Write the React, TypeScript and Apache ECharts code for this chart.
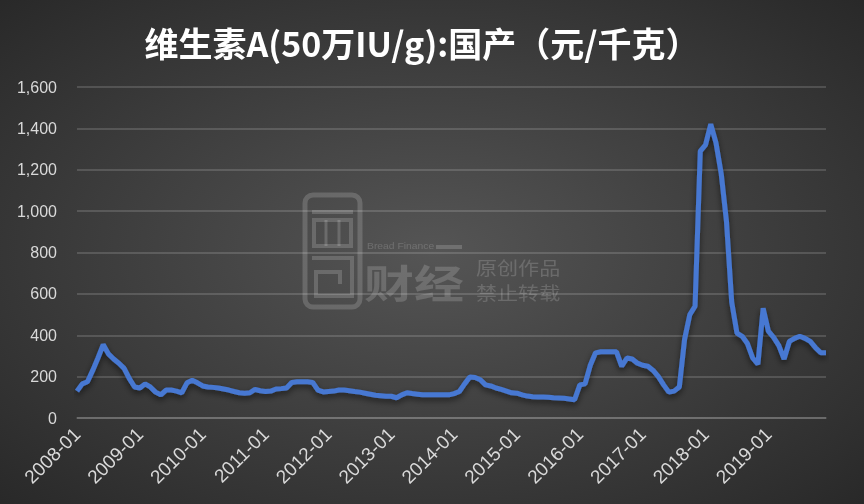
import React, { useEffect, useRef } from "react";
import * as echarts from "echarts";

const TITLE = "维生素A(50万IU/g):国产（元/千克）";

const START_YEAR = 2008;
const YEARS = 12;

const months: string[] = [];
for (let y = 0; y < YEARS; y++) {
  for (let m = 1; m <= 12; m++) {
    months.push(`${START_YEAR + y}-${m < 10 ? "0" + m : m}`);
  }
}

const prices2008 = [130, 165, 175, 230, 290, 355, 310, 285, 265, 240, 190, 150];
const prices2009 = [145, 165, 150, 125, 112, 135, 135, 130, 122, 170, 182, 170];
const prices2010 = [155, 150, 148, 145, 140, 135, 128, 122, 120, 122, 138, 132];
const prices2011 = [128, 130, 140, 142, 145, 172, 175, 175, 175, 172, 135, 126];
const prices2012 = [128, 130, 135, 135, 132, 128, 125, 120, 115, 110, 108, 105];
const prices2013 = [105, 98, 112, 122, 118, 115, 112, 112, 112, 112, 112, 112];
const prices2014 = [118, 128, 165, 198, 196, 185, 160, 155, 145, 138, 130, 122];
const prices2015 = [120, 112, 106, 103, 102, 101, 100, 98, 97, 95, 92, 88];
const prices2016 = [160, 165, 255, 315, 320, 320, 320, 320, 250, 290, 285, 265];
const prices2017 = [255, 250, 230, 200, 160, 125, 130, 150, 380, 500, 540, 1290];
const prices2018 = [1320, 1420, 1330, 1180, 950, 560, 410, 395, 360, 290, 260, 530];
const prices2019 = [420, 390, 350, 285, 370, 385, 395, 385, 370, 340, 315, 315];

const prices = [
  ...prices2008, ...prices2009, ...prices2010, ...prices2011,
  ...prices2012, ...prices2013, ...prices2014, ...prices2015,
  ...prices2016, ...prices2017, ...prices2018, ...prices2019,
];

const Y_MIN = 0;
const Y_MAX = 1600;
const Y_STEP = 200;

export default function App() {
  const ref = useRef<HTMLDivElement>(null);

  useEffect(() => {
    if (!ref.current) return;
    const chart = echarts.init(ref.current, null, { renderer: "svg" });
    const wm = "rgba(255,255,255,0.17)";
    chart.setOption({
      animation: false,
      backgroundColor: {
        type: "radial",
        x: 0.5,
        y: 0.5,
        r: 0.75,
        colorStops: [
          { offset: 0, color: "#555555" },
          { offset: 1, color: "#262626" },
        ],
      },
      grid: { left: 77, right: 38, top: 87, bottom: 86, containLabel: false },
      graphic: [
        {
          type: "text",
          x: 422,
          y: 42,
          z: 10,
          style: {
            text: TITLE,
            fill: "#ffffff",
            font: 'bold 34px "Noto Sans CJK SC", sans-serif',
            textAlign: "center",
            textVerticalAlign: "middle",
            shadowColor: "rgba(0,0,0,0.6)",
            shadowBlur: 4,
            shadowOffsetX: 1,
            shadowOffsetY: 2,
          },
        },
        {
          type: "group",
          z: 0,
          silent: true,
          children: [
            { type: "rect", shape: { x: 305, y: 195, width: 55, height: 112, r: 8 }, style: { fill: "none", stroke: wm, lineWidth: 5 } },
            { type: "line", shape: { x1: 312, y1: 212, x2: 353, y2: 212 }, style: { stroke: wm, lineWidth: 4 } },
            { type: "rect", shape: { x: 314, y: 220, width: 37, height: 26 }, style: { fill: "none", stroke: wm, lineWidth: 4 } },
            { type: "line", shape: { x1: 326, y1: 220, x2: 326, y2: 246 }, style: { stroke: wm, lineWidth: 3 } },
            { type: "line", shape: { x1: 339, y1: 220, x2: 339, y2: 246 }, style: { stroke: wm, lineWidth: 3 } },
            { type: "polyline", shape: { points: [[312, 258], [352, 258], [352, 296], [316, 296], [316, 272], [340, 272], [340, 284]] }, style: { fill: "none", stroke: wm, lineWidth: 4 } },
            { type: "line", shape: { x1: 436, y1: 247, x2: 462, y2: 247 }, style: { stroke: wm, lineWidth: 4 } },
            {
              type: "text",
              x: 367,
              y: 246,
              scaleX: 1.15,
              style: {
                text: "Bread Finance",
                fill: wm,
                font: '9px "Liberation Sans", sans-serif',
                textVerticalAlign: "middle",
              },
            },
            {
              type: "text",
              x: 364,
              y: 281,
              scaleX: 1.28,
              style: {
                text: "财经",
                fill: wm,
                font: 'bold 39px "Noto Sans CJK SC", sans-serif',
                textVerticalAlign: "middle",
              },
            },
            {
              type: "text",
              x: 476,
              y: 255,
              scaleX: 1.17,
              style: {
                text: "原创作品\n禁止转载",
                fill: wm,
                font: '18px "Noto Sans CJK SC", sans-serif',
                lineHeight: 25,
              },
            },
          ],
        },
      ],
      xAxis: {
        type: "category",
        data: months,
        boundaryGap: false,
        axisLine: { show: true, lineStyle: { color: "rgba(255,255,255,0.2)", width: 1.5 } },
        axisTick: { show: false },
        axisLabel: {
          interval: (index: number) => index % 12 === 0,
          rotate: 45,
          color: "#d9d9d9",
          fontSize: 19,
          fontFamily: '"Liberation Sans", Arial, sans-serif',
          margin: 13,
        },
        splitLine: { show: false },
      },
      yAxis: {
        type: "value",
        min: Y_MIN,
        max: Y_MAX,
        interval: Y_STEP,
        axisLine: { show: false },
        axisTick: { show: false },
        axisLabel: {
          color: "#d9d9d9",
          fontSize: 16,
          fontFamily: '"Liberation Sans", Arial, sans-serif',
          margin: 20,
          formatter: (v: number) => v.toLocaleString("en-US"),
        },
        splitLine: { show: true, lineStyle: { color: "rgba(255,255,255,0.2)", width: 1.5 } },
      },
      series: [
        {
          type: "line",
          data: prices,
          symbol: "none",
          z: 5,
          lineStyle: {
            color: "#4678d2",
            width: 5,
            shadowColor: "rgba(0,0,0,0.55)",
            shadowBlur: 6,
            shadowOffsetY: 3,
          },
        },
      ],
    });
    return () => chart.dispose();
  }, []);

  return (
    <div
      ref={ref}
      style={{ position: "fixed", left: 0, top: 0, width: 864, height: 504 }}
    />
  );
}
